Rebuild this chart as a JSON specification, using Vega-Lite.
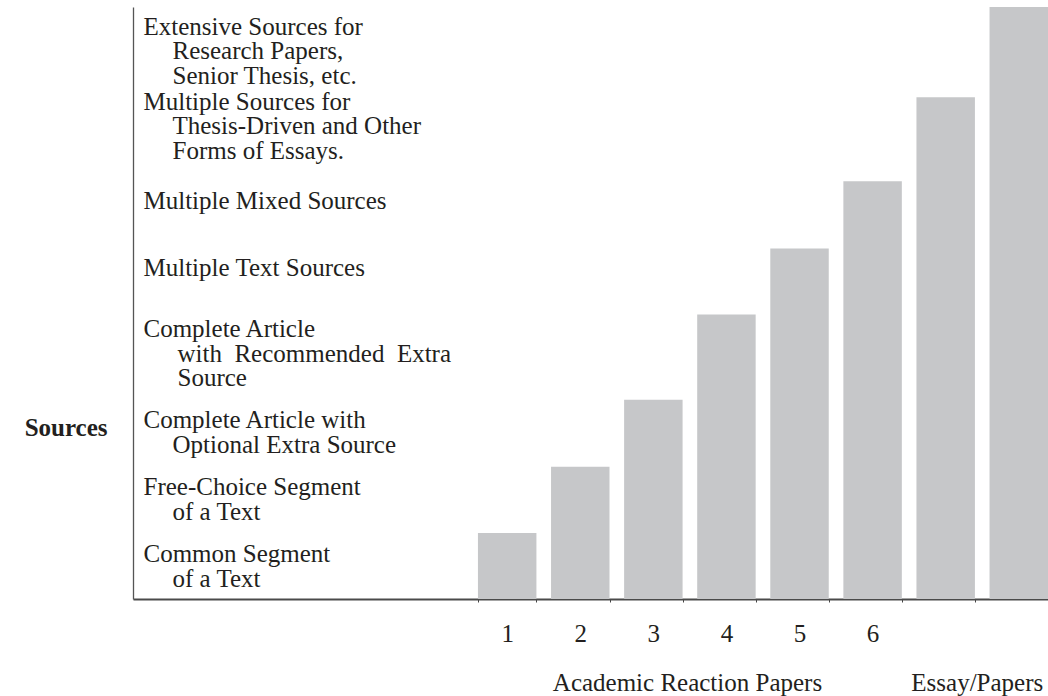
{
  "$schema": "https://vega.github.io/schema/vega-lite/v6.json",
  "width": 915,
  "height": 592,
  "autosize": {"type": "none"},
  "padding": {"left": 133, "top": 7, "right": 0, "bottom": 97},
  "background": "white",
  "config": {"view": {"stroke": null}, "font": "Liberation Serif"},
  "data": {
    "values": [
      {"paper": "1", "level": 66},
      {"paper": "2", "level": 132},
      {"paper": "3", "level": 199},
      {"paper": "4", "level": 284},
      {"paper": "5", "level": 350},
      {"paper": "6", "level": 417},
      {"paper": "7", "level": 501},
      {"paper": "8", "level": 591}
    ]
  },
  "encoding": {
    "x": {
      "field": "paper",
      "type": "ordinal",
      "scale": {
        "domain": ["b1", "b2", "b3", "b4", "1", "2", "3", "4", "5", "6", "7", "8"],
        "paddingInner": 0.2,
        "paddingOuter": 0.36,
        "align": 1
      },
      "axis": {
        "values": ["1", "2", "3", "4", "5", "6", "7", "8"],
        "title": "Academic Reaction Papers",
        "titleFont": "Liberation Serif",
        "titleFontSize": 25,
        "titleFontWeight": "normal",
        "titleColor": "#231f20",
        "titleAlign": "center",
        "titleBaseline": "alphabetic",
        "titleX": 554,
        "titleY": 91,
        "labelExpr": "indexof(['1','2','3','4','5','6'], datum.value) >= 0 ? datum.value : (datum.value == '8' ? 'Essay/Papers' : '')",
        "labelAngle": 0,
        "labelFont": "Liberation Serif",
        "labelFontSize": 25,
        "labelColor": "#231f20",
        "labelBaseline": "alphabetic",
        "labelPadding": {"condition": {"test": "datum.value == '8'", "value": 88}, "value": 39},
        "labelAlign": {"condition": {"test": "datum.value == '8'", "value": "right"}, "value": "center"},
        "labelOffset": {"condition": {"test": "datum.value == '8'", "value": 24}, "value": 0},
        "labelFlush": false,
        "labelOverlap": false,
        "labelBound": false,
        "labelLimit": 0,
        "ticks": true,
        "tickBand": "extent",
        "tickExtra": false,
        "tickSize": 3,
        "tickWidth": 1,
        "tickColor": "#444444",
        "domainColor": "#4a4a4a",
        "domainWidth": 2,
        "grid": false
      }
    }
  },
  "layer": [
    {
      "mark": {"type": "bar", "color": "#c6c7c9"},
      "encoding": {
        "y": {
          "field": "level",
          "type": "quantitative",
          "scale": {"domain": [0, 591], "nice": false, "zero": true},
          "axis": {
            "orient": "left",
            "values": [37, 104, 171, 262, 323, 390, 489, 564],
            "labelExpr": "datum.value == 37 ? 'Common Segment' : datum.value == 104 ? 'Free-Choice Segment' : datum.value == 171 ? 'Complete Article with' : datum.value == 262 ? 'Complete Article' : datum.value == 323 ? 'Multiple Text Sources' : datum.value == 390 ? 'Multiple Mixed Sources' : datum.value == 489 ? 'Multiple Sources for' : 'Extensive Sources for'",
            "labelAlign": "left",
            "labelBaseline": "alphabetic",
            "labelPadding": -10,
            "labelOffset": 0,
            "labelFont": "Liberation Serif",
            "labelFontSize": 25,
            "labelColor": "#231f20",
            "labelOverlap": false,
            "labelBound": false,
            "labelFlush": false,
            "labelLimit": 0,
            "ticks": false,
            "grid": false,
            "domain": true,
            "domainColor": "#555555",
            "domainWidth": 1.3,
            "title": "Sources",
            "titleAngle": 0,
            "titleAlign": "right",
            "titleBaseline": "alphabetic",
            "titleX": -26,
            "titleY": 428,
            "titleFont": "Liberation Serif",
            "titleFontSize": 25,
            "titleFontWeight": "bold",
            "titleColor": "#231f20"
          }
        }
      }
    },
    {
      "mark": {"type": "bar", "opacity": 0},
      "encoding": {
        "y": {
          "field": "level",
          "type": "quantitative",
          "axis": {
            "orient": "left",
            "values": [37, 104, 171, 262, 489, 564],
            "labelExpr": "datum.value == 37 ? 'of a Text' : datum.value == 104 ? 'of a Text' : datum.value == 171 ? 'Optional Extra Source' : datum.value == 262 ? ['with\u00a0 Recommended\u00a0 Extra', 'Source'] : datum.value == 489 ? ['Thesis-Driven and Other', 'Forms of Essays.'] : ['Research Papers,', 'Senior Thesis, etc.']",
            "labelAlign": "left",
            "labelBaseline": "alphabetic",
            "labelPadding": {"condition": {"test": "datum.value == 262", "value": -44}, "value": -39},
            "labelOffset": 24.5,
            "labelLineHeight": 24.5,
            "labelFont": "Liberation Serif",
            "labelFontSize": 25,
            "labelColor": "#231f20",
            "labelOverlap": false,
            "labelBound": false,
            "labelFlush": false,
            "labelLimit": 0,
            "ticks": false,
            "grid": false,
            "domain": false,
            "title": null
          }
        }
      }
    }
  ],
  "resolve": {"axis": {"y": "independent"}}
}
